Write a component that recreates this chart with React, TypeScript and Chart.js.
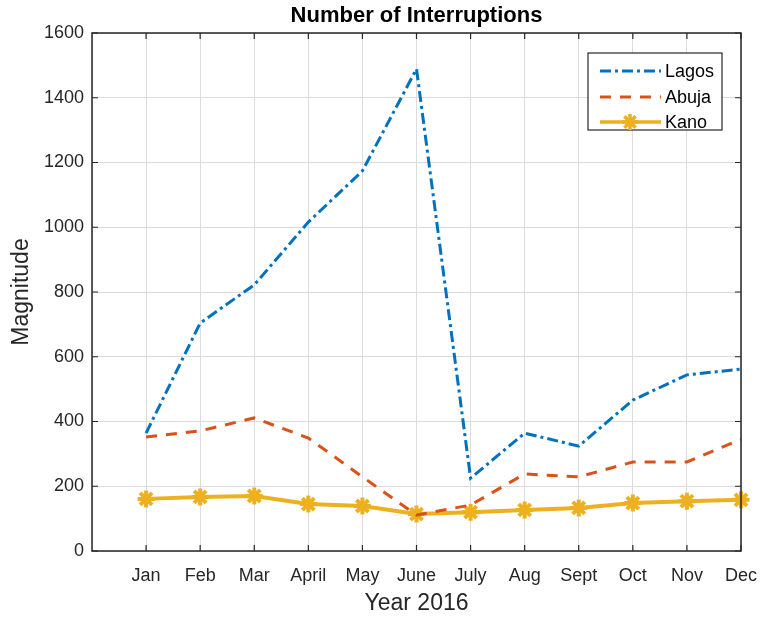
import React, { useEffect, useRef } from "react";
import { Chart, registerables } from "chart.js";

Chart.register(...registerables);

const months = ["Jan", "Feb", "Mar", "April", "May", "June", "July", "Aug", "Sept", "Oct", "Nov", "Dec"];
const lagos = [364, 704, 822, 1016, 1174, 1489, 225, 364, 324, 466, 544, 562];
const abuja = [352, 371, 411, 349, 229, 111, 142, 238, 229, 275, 275, 345];
const kano = [161, 167, 170, 145, 139, 114, 120, 127, 133, 148, 154, 158];
const yTicks = [0, 200, 400, 600, 800, 1000, 1200, 1400, 1600];

const chartTitle = "Number of Interruptions";
const xTitle = "Year 2016";
const yTitle = "Magnitude";

const FONT = "'Liberation Sans', Arial, Helvetica, sans-serif";
const C_LAGOS = "#0072BD";
const C_ABUJA = "#D95319";
const C_KANO = "#EDB120";
const AXIS = "#262626";

const seriesNames = ["Lagos", "Abuja", "Kano"];

const boxPlugin = {
  id: "matlabBox",
  afterDatasetsDraw(chart: any) {
    const { ctx, chartArea } = chart;
    const { left, right, top, bottom } = chartArea;
    const xs = chart.scales.x;
    const ys = chart.scales.y;
    ctx.save();
    ctx.strokeStyle = AXIS;
    ctx.lineWidth = 1.5;
    ctx.setLineDash([]);
    ctx.beginPath();
    ctx.rect(left, top, right - left, bottom - top);
    ctx.stroke();
    ctx.lineWidth = 1.2;
    ctx.beginPath();
    for (let i = 1; i <= months.length; i++) {
      const px = xs.getPixelForValue(i);
      ctx.moveTo(px, bottom);
      ctx.lineTo(px, bottom - 6);
      ctx.moveTo(px, top);
      ctx.lineTo(px, top + 6);
    }
    yTicks.forEach((v) => {
      const py = ys.getPixelForValue(v);
      ctx.moveTo(left, py);
      ctx.lineTo(left + 6, py);
      ctx.moveTo(right, py);
      ctx.lineTo(right - 6, py);
    });
    ctx.stroke();
    ctx.restore();
  },
  afterDraw(chart: any) {
    const { ctx, chartArea } = chart;
    ctx.save();
    // title
    ctx.fillStyle = "#000";
    ctx.font = `bold 22px ${FONT}`;
    ctx.textAlign = "center";
    ctx.textBaseline = "middle";
    ctx.fillText(chartTitle, (chartArea.left + chartArea.right) / 2, 16);

    // legend
    const bx = 588, by = 53, bw = 134, bh = 77;
    ctx.fillStyle = "#fff";
    ctx.fillRect(bx, by, bw, bh);
    ctx.strokeStyle = AXIS;
    ctx.lineWidth = 1.2;
    ctx.strokeRect(bx, by, bw, bh);
    const rows = [71, 97, 122];
    const colors = [C_LAGOS, C_ABUJA, C_KANO];
    const dashes = [[11, 4, 3, 4], [11, 9], []];
    rows.forEach((ry, i) => {
      ctx.strokeStyle = colors[i];
      ctx.lineWidth = i === 2 ? 3.5 : 3;
      ctx.setLineDash(dashes[i]);
      ctx.beginPath();
      ctx.moveTo(600, ry);
      ctx.lineTo(661, ry);
      ctx.stroke();
      ctx.setLineDash([]);
      if (i === 2) {
        const cx = 630;
        const r = 8;
        ctx.lineWidth = 3.5;
        ctx.beginPath();
        for (let k = 0; k < 4; k++) {
          const a = (k * Math.PI) / 4;
          ctx.moveTo(cx + r * Math.cos(a), ry + r * Math.sin(a));
          ctx.lineTo(cx - r * Math.cos(a), ry - r * Math.sin(a));
        }
        ctx.stroke();
      }
      ctx.fillStyle = "#000";
      ctx.font = `18px ${FONT}`;
      ctx.textAlign = "left";
      ctx.textBaseline = "middle";
      ctx.fillText(seriesNames[i], 665, ry + 1);
    });
    ctx.restore();
  },
};

export default function App() {
  const ref = useRef<HTMLCanvasElement | null>(null);
  useEffect(() => {
    if (!ref.current) return;
    const chart = new Chart(ref.current, {
      type: "line",
      plugins: [boxPlugin],
      data: {
        datasets: [
          {
            label: seriesNames[0],
            data: lagos.map((v, i) => ({ x: i + 1, y: v })),
            borderColor: C_LAGOS,
            backgroundColor: C_LAGOS,
            borderWidth: 3,
            borderDash: [11, 4, 3, 4],
            pointRadius: 0,
            tension: 0,
            clip: false as any,
          },
          {
            label: seriesNames[1],
            data: abuja.map((v, i) => ({ x: i + 1, y: v })),
            borderColor: C_ABUJA,
            backgroundColor: C_ABUJA,
            borderWidth: 3,
            borderDash: [11, 9],
            pointRadius: 0,
            tension: 0,
            clip: false as any,
          },
          {
            label: seriesNames[2],
            data: kano.map((v, i) => ({ x: i + 1, y: v })),
            borderColor: C_KANO,
            backgroundColor: C_KANO,
            borderWidth: 4,
            pointStyle: "star",
            pointRadius: 8.5,
            pointBorderWidth: 4,
            pointBorderColor: C_KANO,
            tension: 0,
            clip: false as any,
          },
        ],
      },
      options: {
        responsive: false,
        animation: false,
        layout: { padding: { top: 33, right: 21, left: 0, bottom: 0 } },
        plugins: {
          legend: { display: false },
          title: { display: false },
          tooltip: { enabled: false },
        },
        scales: {
          x: {
            type: "linear",
            min: 0,
            max: 12,
            afterFit: (s: any) => {
              s.height = 66;
              s.paddingLeft = 0;
              s.paddingRight = 0;
            },
            afterBuildTicks: (s: any) => {
              s.ticks = [{ value: 0 }, ...months.map((_, i) => ({ value: i + 1 }))];
            },
            ticks: {
              autoSkip: false,
              maxRotation: 0,
              padding: 14,
              color: AXIS,
              font: { family: FONT, size: 18 },
              callback: (v: any) => months[Number(v) - 1] ?? "",
            },
            grid: { color: "#dcdcdc", lineWidth: 1, drawTicks: false },
            border: { display: false },
            title: {
              display: true,
              text: xTitle,
              color: AXIS,
              font: { family: FONT, size: 23 },
              padding: { top: -2, bottom: 0 },
            },
          },
          y: {
            min: 0,
            max: 1600,
            afterFit: (s: any) => {
              s.width = 92;
              s.paddingTop = 0;
              s.paddingBottom = 0;
            },
            afterBuildTicks: (s: any) => {
              s.ticks = yTicks.map((v) => ({ value: v }));
            },
            ticks: {
              padding: 8,
              color: AXIS,
              font: { family: FONT, size: 18 },
              callback: (v: any) => String(v),
            },
            grid: { color: "#dcdcdc", lineWidth: 1, drawTicks: false },
            border: { display: false },
            title: {
              display: true,
              text: yTitle,
              color: AXIS,
              font: { family: FONT, size: 23 },
              padding: { top: 8, bottom: 0 },
            },
          },
        },
      },
    } as any);
    return () => chart.destroy();
  }, []);
  return (
    <div style={{ position: "absolute", left: 0, top: 0, width: 762, height: 617, background: "#fff" }}>
      <canvas ref={ref} width={762} height={617} style={{ width: 762, height: 617 }} />
    </div>
  );
}
